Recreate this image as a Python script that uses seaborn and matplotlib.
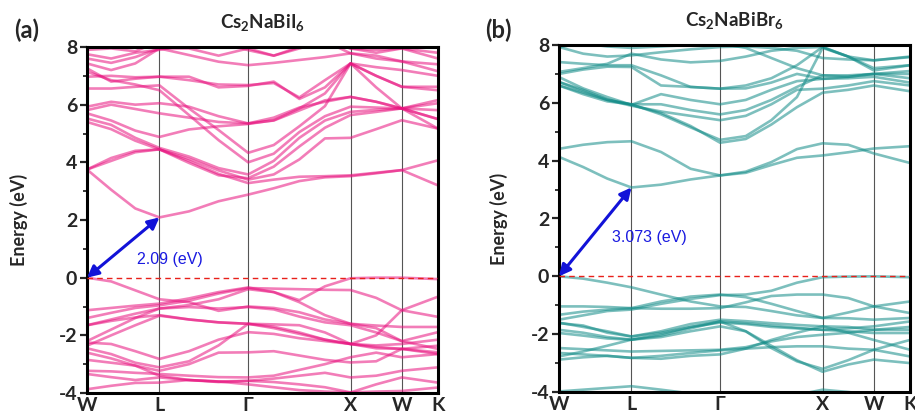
import numpy as np
import pandas as pd
import matplotlib
matplotlib.use("Agg")
import matplotlib.pyplot as plt
import seaborn as sns

# ---- k-path through the fcc Brillouin zone (units of 2*pi/a) ----
path_labels = ["W", "L", "Γ", "X", "W", "K"]
path_coords = [(1.0, 0.5, 0.0), (0.5, 0.5, 0.5), (0.0, 0.0, 0.0),
               (1.0, 0.0, 0.0), (1.0, 0.5, 0.0), (0.75, 0.75, 0.0)]
segment_steps = [3, 3, 4, 2, 1]

# band gaps (eV): VBM at W, CBM at L
gap_a = 2.09
gap_b = 3.073

# ---- Cs2NaBiI6: energies (eV) at the k-points W..L..Γ..X..W..K ----
a_cond = [
    [3.75, 3.05, 2.40, gap_a, 2.30, 2.65, 2.88, 3.10, 3.35, 3.48, 3.52, 3.62, 3.73, 3.20],
    [3.75, 4.05, 4.35, 4.45, 4.05, 3.60, 3.28, 3.40, 3.50, 3.52, 3.55, 3.64, 3.73, 4.07],
    [3.75, 4.15, 4.40, 4.45, 4.12, 3.72, 3.40, 3.58, 4.10, 4.83, 4.85, 5.15, 5.46, 5.17],
    [5.40, 5.15, 4.75, 4.45, 3.98, 3.55, 3.45, 3.85, 4.55, 5.20, 5.64, 5.75, 5.87, 5.81],
    [5.52, 5.30, 4.85, 4.50, 4.20, 3.80, 3.58, 4.05, 4.85, 5.45, 5.75, 5.82, 5.87, 6.05],
    [5.70, 5.45, 5.10, 4.88, 5.14, 5.25, 5.33, 5.46, 5.87, 6.39, 7.43, 7.00, 6.62, 6.62],
    [5.81, 6.00, 5.85, 5.70, 5.55, 5.40, 5.35, 5.55, 5.90, 6.10, 6.27, 6.10, 5.87, 5.50],
    [5.93, 6.10, 6.00, 6.05, 5.93, 5.60, 5.35, 5.45, 5.80, 6.15, 6.27, 6.10, 5.87, 6.16],
    [6.56, 6.56, 6.62, 6.67, 5.87, 5.12, 4.33, 4.60, 5.25, 5.95, 7.43, 6.60, 5.87, 5.17],
    [7.14, 6.85, 6.70, 6.50, 5.64, 4.77, 4.00, 4.30, 5.05, 5.60, 5.93, 5.90, 5.87, 5.50],
    [6.97, 7.00, 6.95, 6.97, 6.97, 6.60, 6.65, 6.80, 6.20, 6.60, 7.43, 7.00, 6.62, 6.50],
    [7.26, 6.80, 6.90, 6.97, 6.85, 6.70, 6.68, 6.75, 6.25, 6.85, 7.43, 7.30, 7.20, 7.00],
    [7.43, 7.20, 7.43, 7.95, 7.72, 7.49, 7.37, 7.45, 7.55, 7.65, 7.78, 7.60, 7.50, 7.16],
    [7.60, 7.45, 7.65, 7.95, 7.95, 7.70, 7.95, 7.70, 7.95, 8.20, 7.95, 7.80, 7.95, 7.80],
    [7.75, 7.60, 7.80, 7.90, 8.10, 8.20, 7.89, 7.70, 8.00, 8.30, 7.95, 7.90, 7.95, 7.60],
    [7.90, 7.95, 7.85, 8.20, 8.30, 8.40, 8.50, 8.40, 8.30, 8.20, 7.78, 7.70, 7.50, 7.40],
]
a_val = [
    [0.00, -0.13, -0.44, -0.75, -0.85, -1.15, -1.00, -1.05, -1.20, -1.45, -1.60, -1.66, -1.71, -1.71],
    [-1.13, -1.05, -0.97, -0.90, -0.72, -0.50, -0.34, -0.50, -0.85, -1.30, -1.60, -1.75, -2.20, -1.89],
    [-1.40, -1.22, -1.05, -0.96, -0.80, -0.55, -0.36, -0.38, -0.40, -0.42, -0.43, -0.70, -1.13, -1.36],
    [-2.20, -1.80, -1.40, -1.07, -0.95, -0.75, -0.40, -0.50, -0.78, -0.30, -0.02, 0.00, 0.00, -0.05],
    [-1.65, -1.50, -1.38, -1.30, -1.45, -1.55, -1.60, -1.75, -1.95, -2.15, -2.30, -2.00, -1.13, -0.66],
    [-2.25, -2.30, -2.55, -2.82, -2.55, -2.15, -1.89, -1.95, -2.10, -2.20, -2.30, -2.35, -2.30, -2.15],
    [-2.45, -2.65, -2.95, -3.11, -2.90, -2.35, -1.60, -1.70, -1.90, -2.15, -2.30, -2.45, -2.47, -2.36],
    [-2.85, -2.95, -3.05, -3.23, -3.00, -2.60, -2.59, -2.55, -2.70, -2.85, -2.94, -2.90, -2.47, -2.59],
    [-3.23, -3.25, -3.30, -3.34, -3.40, -3.45, -3.46, -3.40, -3.20, -3.00, -2.76, -2.60, -2.76, -2.65],
    [-3.34, -3.45, -3.55, -3.46, -3.55, -3.60, -3.58, -3.50, -3.40, -3.30, -3.46, -3.40, -3.23, -3.11],
    [-3.87, -3.75, -3.65, -3.64, -3.55, -3.60, -3.70, -3.80, -3.90, -3.95, -3.98, -3.95, -3.93, -3.81],
    [-2.60, -2.80, -3.05, -3.40, -3.55, -3.62, -3.58, -3.62, -3.70, -3.80, -3.98, -3.70, -3.46, -3.64],
    [-1.65, -1.45, -1.25, -1.07, -1.02, -1.07, -1.02, -1.10, -1.35, -1.55, -1.65, -1.90, -2.20, -2.47],
    [-2.36, -2.00, -1.65, -1.32, -1.45, -1.55, -1.60, -1.62, -1.65, -1.90, -2.30, -2.40, -2.47, -2.65],
]

# ---- Cs2NaBiBr6 ----
b_cond = [
    [4.13, 3.78, 3.38, gap_b, 3.17, 3.35, 3.49, 3.62, 3.95, 4.40, 4.60, 4.55, 4.25, 3.92],
    [4.41, 4.55, 4.64, 4.67, 4.30, 3.72, 3.49, 3.58, 3.85, 4.10, 4.18, 4.29, 4.42, 4.50],
    [6.60, 6.35, 6.10, 5.95, 5.60, 5.15, 4.72, 4.85, 5.40, 6.20, 7.90, 7.60, 7.20, 7.30],
    [6.72, 6.45, 6.12, 5.93, 5.65, 5.20, 4.62, 4.75, 5.25, 5.85, 6.35, 6.45, 6.60, 6.40],
    [6.89, 6.50, 6.20, 5.93, 6.30, 6.10, 5.95, 6.10, 6.45, 6.75, 6.83, 6.85, 6.90, 6.70],
    [7.00, 7.15, 7.25, 7.24, 6.60, 6.55, 6.49, 6.60, 6.85, 7.30, 7.93, 7.60, 7.47, 7.60],
    [6.60, 6.30, 6.05, 5.95, 5.95, 5.75, 5.60, 5.75, 6.10, 6.55, 6.95, 6.90, 7.00, 7.00],
    [6.72, 6.40, 6.10, 5.90, 5.70, 5.55, 5.40, 5.55, 5.95, 6.45, 6.49, 6.60, 6.75, 6.60],
    [7.41, 7.35, 7.30, 7.30, 6.95, 6.55, 6.49, 6.50, 6.70, 7.00, 6.83, 6.90, 7.00, 7.10],
    [7.93, 7.70, 7.60, 7.64, 7.75, 7.85, 7.93, 7.95, 7.90, 7.80, 7.55, 7.50, 7.47, 7.58],
    [7.07, 7.20, 7.35, 7.70, 7.50, 7.40, 7.45, 7.60, 7.80, 7.90, 7.93, 7.60, 7.12, 7.30],
    [7.93, 8.05, 7.95, 7.90, 7.95, 8.00, 8.05, 7.90, 7.55, 7.20, 6.95, 6.95, 7.00, 6.85],
]
b_val = [
    [0.00, -0.08, -0.22, -0.38, -0.63, -0.87, -1.04, -1.06, -1.20, -1.35, -1.44, -1.45, -1.50, -1.44],
    [-1.04, -1.04, -1.06, -1.10, -1.12, -1.12, -1.10, -0.90, -0.68, -0.63, -0.63, -0.75, -1.04, -1.27],
    [-1.33, -1.22, -1.15, -1.10, -0.87, -0.70, -0.63, -0.72, -0.95, -1.20, -1.44, -1.25, -1.04, -0.87],
    [-1.50, -1.35, -1.20, -1.15, -0.95, -0.78, -0.65, -0.63, -0.50, -0.22, -0.03, -0.01, 0.00, -0.03],
    [-1.62, -1.70, -1.95, -2.08, -1.90, -1.65, -1.50, -1.55, -1.62, -1.68, -1.73, -1.75, -1.85, -1.85],
    [-1.85, -1.95, -2.10, -2.19, -2.05, -1.80, -1.56, -1.62, -1.70, -1.78, -1.85, -1.90, -1.96, -1.96],
    [-1.96, -2.05, -2.15, -2.19, -2.10, -1.90, -1.73, -1.90, -2.40, -2.90, -3.30, -3.05, -2.88, -3.00],
    [-2.48, -2.52, -2.56, -2.60, -2.58, -2.56, -2.54, -2.45, -2.25, -2.10, -2.02, -1.95, -1.85, -1.75],
    [-2.65, -2.70, -2.75, -2.82, -2.75, -2.65, -2.56, -2.50, -2.45, -2.42, -2.42, -2.50, -2.54, -2.77],
    [-2.77, -2.60, -2.40, -2.19, -2.00, -1.75, -1.56, -1.90, -2.48, -2.94, -3.20, -2.90, -2.54, -2.20],
    [-3.98, -3.92, -3.86, -3.80, -3.92, -4.05, -4.20, -4.20, -4.20, -4.10, -3.92, -4.00, -4.10, -4.20],
    [-1.60, -1.75, -1.90, -2.08, -1.95, -1.75, -1.60, -1.65, -1.75, -1.80, -1.85, -1.80, -1.73, -1.56],
    [-2.88, -2.80, -2.75, -2.82, -2.85, -2.75, -2.70, -2.50, -2.20, -1.95, -1.73, -1.95, -2.20, -2.54],
]

titles = ["Cs$_{\\mathbf{2}}$NaBiI$_{\\mathbf{6}}$", "Cs$_{\\mathbf{2}}$NaBiBr$_{\\mathbf{6}}$"]
panel_tags = ["(a)", "(b)"]
band_colors = ["#E8137F", "#128C88"]
gap_values = [gap_a, gap_b]
gap_texts = ["2.09 (eV)", "3.073 (eV)"]
gap_text_pos = [(0.49, 0.62), (0.52, 1.35)]


def kpath(coords, steps):
    """Cumulative path length of every k-point and of the labelled vertices."""
    ks, ticks = [0.0], [0.0]
    for p, q, n in zip(coords[:-1], coords[1:], steps):
        d = float(np.linalg.norm(np.subtract(q, p)))
        start = ticks[-1]
        ks.extend(start + d * j / n for j in range(1, n + 1))
        ticks.append(start + d)
    return np.array(ks), np.array(ticks)


def band_frame(bands, k):
    rows = [(i, kk, e) for i, b in enumerate(bands) for kk, e in zip(k, b)]
    return pd.DataFrame(rows, columns=["band", "k", "E"])


k, kticks = kpath(path_coords, segment_steps)

sns.set_style("ticks")
plt.rcParams["font.family"] = ["Lato", "DejaVu Sans"]
plt.rcParams["mathtext.fontset"] = "custom"
plt.rcParams["mathtext.rm"] = "Lato"
plt.rcParams["mathtext.bf"] = "Lato:bold"

fig = plt.figure(figsize=(9.15, 4.19), dpi=100)
rects = [[87 / 915, 1 - 393 / 419, 351 / 915, 346 / 419],
         [559 / 915, 1 - 392 / 419, 351 / 915, 347 / 419]]
ylabel_x = [-0.168, -0.145]
tag_xy = [(27 / 915, 1 - 30 / 419), (498 / 915, 1 - 30 / 419)]

for idx, (cond, val) in enumerate([(a_cond, a_val), (b_cond, b_val)]):
    ax = fig.add_axes(rects[idx])
    df = band_frame(val + cond, k)
    sns.lineplot(data=df, x="k", y="E", units="band", estimator=None,
                 color=band_colors[idx], alpha=0.55, lw=1.9, legend=False, ax=ax)

    for xv in kticks[1:-1]:
        ax.axvline(xv, color="#555555", lw=0.8, zorder=0)
    ax.axhline(0, color="#E8201A", lw=1.0, ls=(0, (4, 3)), zorder=3)

    ax.annotate("", xy=(kticks[1], gap_values[idx]), xytext=(kticks[0], 0.0),
                arrowprops=dict(arrowstyle="<|-|>", color="#1212D8", lw=2.2,
                                mutation_scale=17, shrinkA=0, shrinkB=0),
                zorder=5)
    tx, ty = gap_text_pos[idx]
    ax.text(tx, ty, gap_texts[idx], color="#1A1AE0", fontsize=11.5,
            family=["Liberation Sans", "DejaVu Sans"], va="center", ha="left")

    ax.set_xlim(kticks[0], kticks[-1])
    ax.set_ylim(-4, 8)
    ax.set_xticks(kticks)
    ax.set_xticklabels(path_labels, fontsize=14, fontweight="bold")
    ax.set_yticks(np.arange(-4, 9, 2))
    ax.set_yticklabels([str(v) for v in range(-4, 9, 2)], fontsize=14, fontweight="bold")
    ax.set_yticks(np.arange(-3, 8, 2), minor=True)
    ax.tick_params(axis="x", length=0, pad=3)
    ax.tick_params(axis="y", which="major", length=5, width=1.6, direction="out", pad=2)
    ax.tick_params(axis="y", which="minor", length=3, width=1.3, direction="out")
    ax.set_xlabel("")
    ax.set_ylabel("Energy (eV)", fontsize=13, fontweight="bold")
    ax.yaxis.set_label_coords(ylabel_x[idx], 0.5)
    for sp in ax.spines.values():
        sp.set_visible(True)
        sp.set_linewidth(2.2)
        sp.set_color("black")

    ax.set_title(titles[idx], fontsize=13.5, fontweight="bold", pad=13)
    fig.text(*tag_xy[idx], panel_tags[idx], fontsize=17, fontweight="bold",
             ha="center", va="center")

fig.savefig("out.png", dpi=100)
